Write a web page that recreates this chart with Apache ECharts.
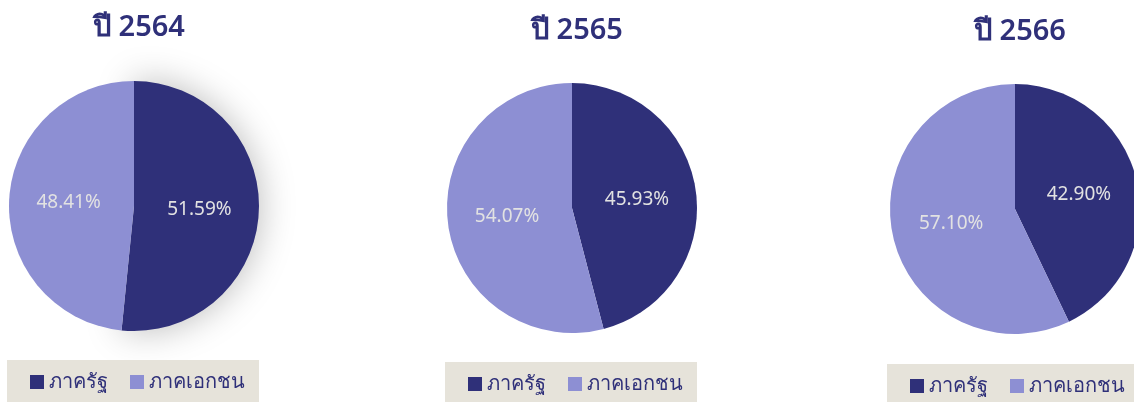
<!DOCTYPE html>
<html>
<head>
<meta charset="utf-8">
<script src="https://cdn.jsdelivr.net/npm/echarts@6/dist/echarts.min.js"></script>
<style>
  html, body { margin: 0; padding: 0; background: #ffffff; }
  #chart { width: 1134px; height: 402px; }
</style>
</head>
<body>
<div id="chart"></div>
<script>
// Share of public vs private sector by year
const years = ['ปี 2564', 'ปี 2565', 'ปี 2566'];
const sectors = ['ภาครัฐ', 'ภาคเอกชน'];
const publicShare = [51.59, 45.93, 42.90];
const privateShare = [48.41, 54.07, 57.10];

const DARK = '#2f3079';
const LIGHT = '#8d8fd3';
const FONT = '"Noto Sans", "DejaVu Sans", sans-serif';

// per-panel placement: pie centre, title top, legend box
const panels = [
  { cx: 134, cy: 206, titleTop: 8, legendLeft: 7, legendTop: 360 },
  { cx: 572, cy: 208, titleTop: 11, legendLeft: 445, legendTop: 362 },
  { cx: 1015, cy: 209, titleTop: 12, legendLeft: 887, legendTop: 364 }
];

const titles = [];
const legends = [];
const series = [];

years.forEach((year, i) => {
  const p = panels[i];
  titles.push({
    text: year,
    left: p.cx,
    top: p.titleTop,
    textAlign: 'center',
    textStyle: { color: DARK, fontSize: 29, fontWeight: 600, fontFamily: FONT }
  });
  legends.push({
    data: sectors,
    orient: 'horizontal',
    left: p.legendLeft,
    top: p.legendTop,
    width: 400,
    backgroundColor: '#e6e3da',
    padding: [12, 14, 10, 23],
    itemWidth: 14,
    itemHeight: 14,
    itemGap: 22,
    icon: 'rect',
    selectedMode: false,
    textStyle: { color: DARK, fontSize: 20, fontFamily: FONT }
  });
  const darkItem = { name: sectors[0], value: publicShare[i], itemStyle: { color: DARK } };
  if (i === 0) {
    // highlighted slice in the first panel carries a soft drop shadow
    darkItem.itemStyle.shadowBlur = 36;
    darkItem.itemStyle.shadowColor = 'rgba(0,0,0,0.28)';
  }
  series.push({
    type: 'pie',
    center: [p.cx, p.cy],
    radius: 125,
    startAngle: 90,
    clockwise: true,
    silent: true,
    label: {
      show: true,
      position: 'inside',
      formatter: (d) => d.value.toFixed(2) + '%',
      color: '#e2e2e2',
      fontSize: 19,
      fontFamily: FONT
    },
    labelLine: { show: false },
    itemStyle: { borderWidth: 0 },
    data: [
      darkItem,
      { name: sectors[1], value: privateShare[i], itemStyle: { color: LIGHT } }
    ]
  });
});

const chart = echarts.init(document.getElementById('chart'), null, { renderer: 'canvas' });
chart.setOption({
  animation: false,
  color: [DARK, LIGHT],
  title: titles,
  legend: legends,
  series: series
});
</script>
</body>
</html>
